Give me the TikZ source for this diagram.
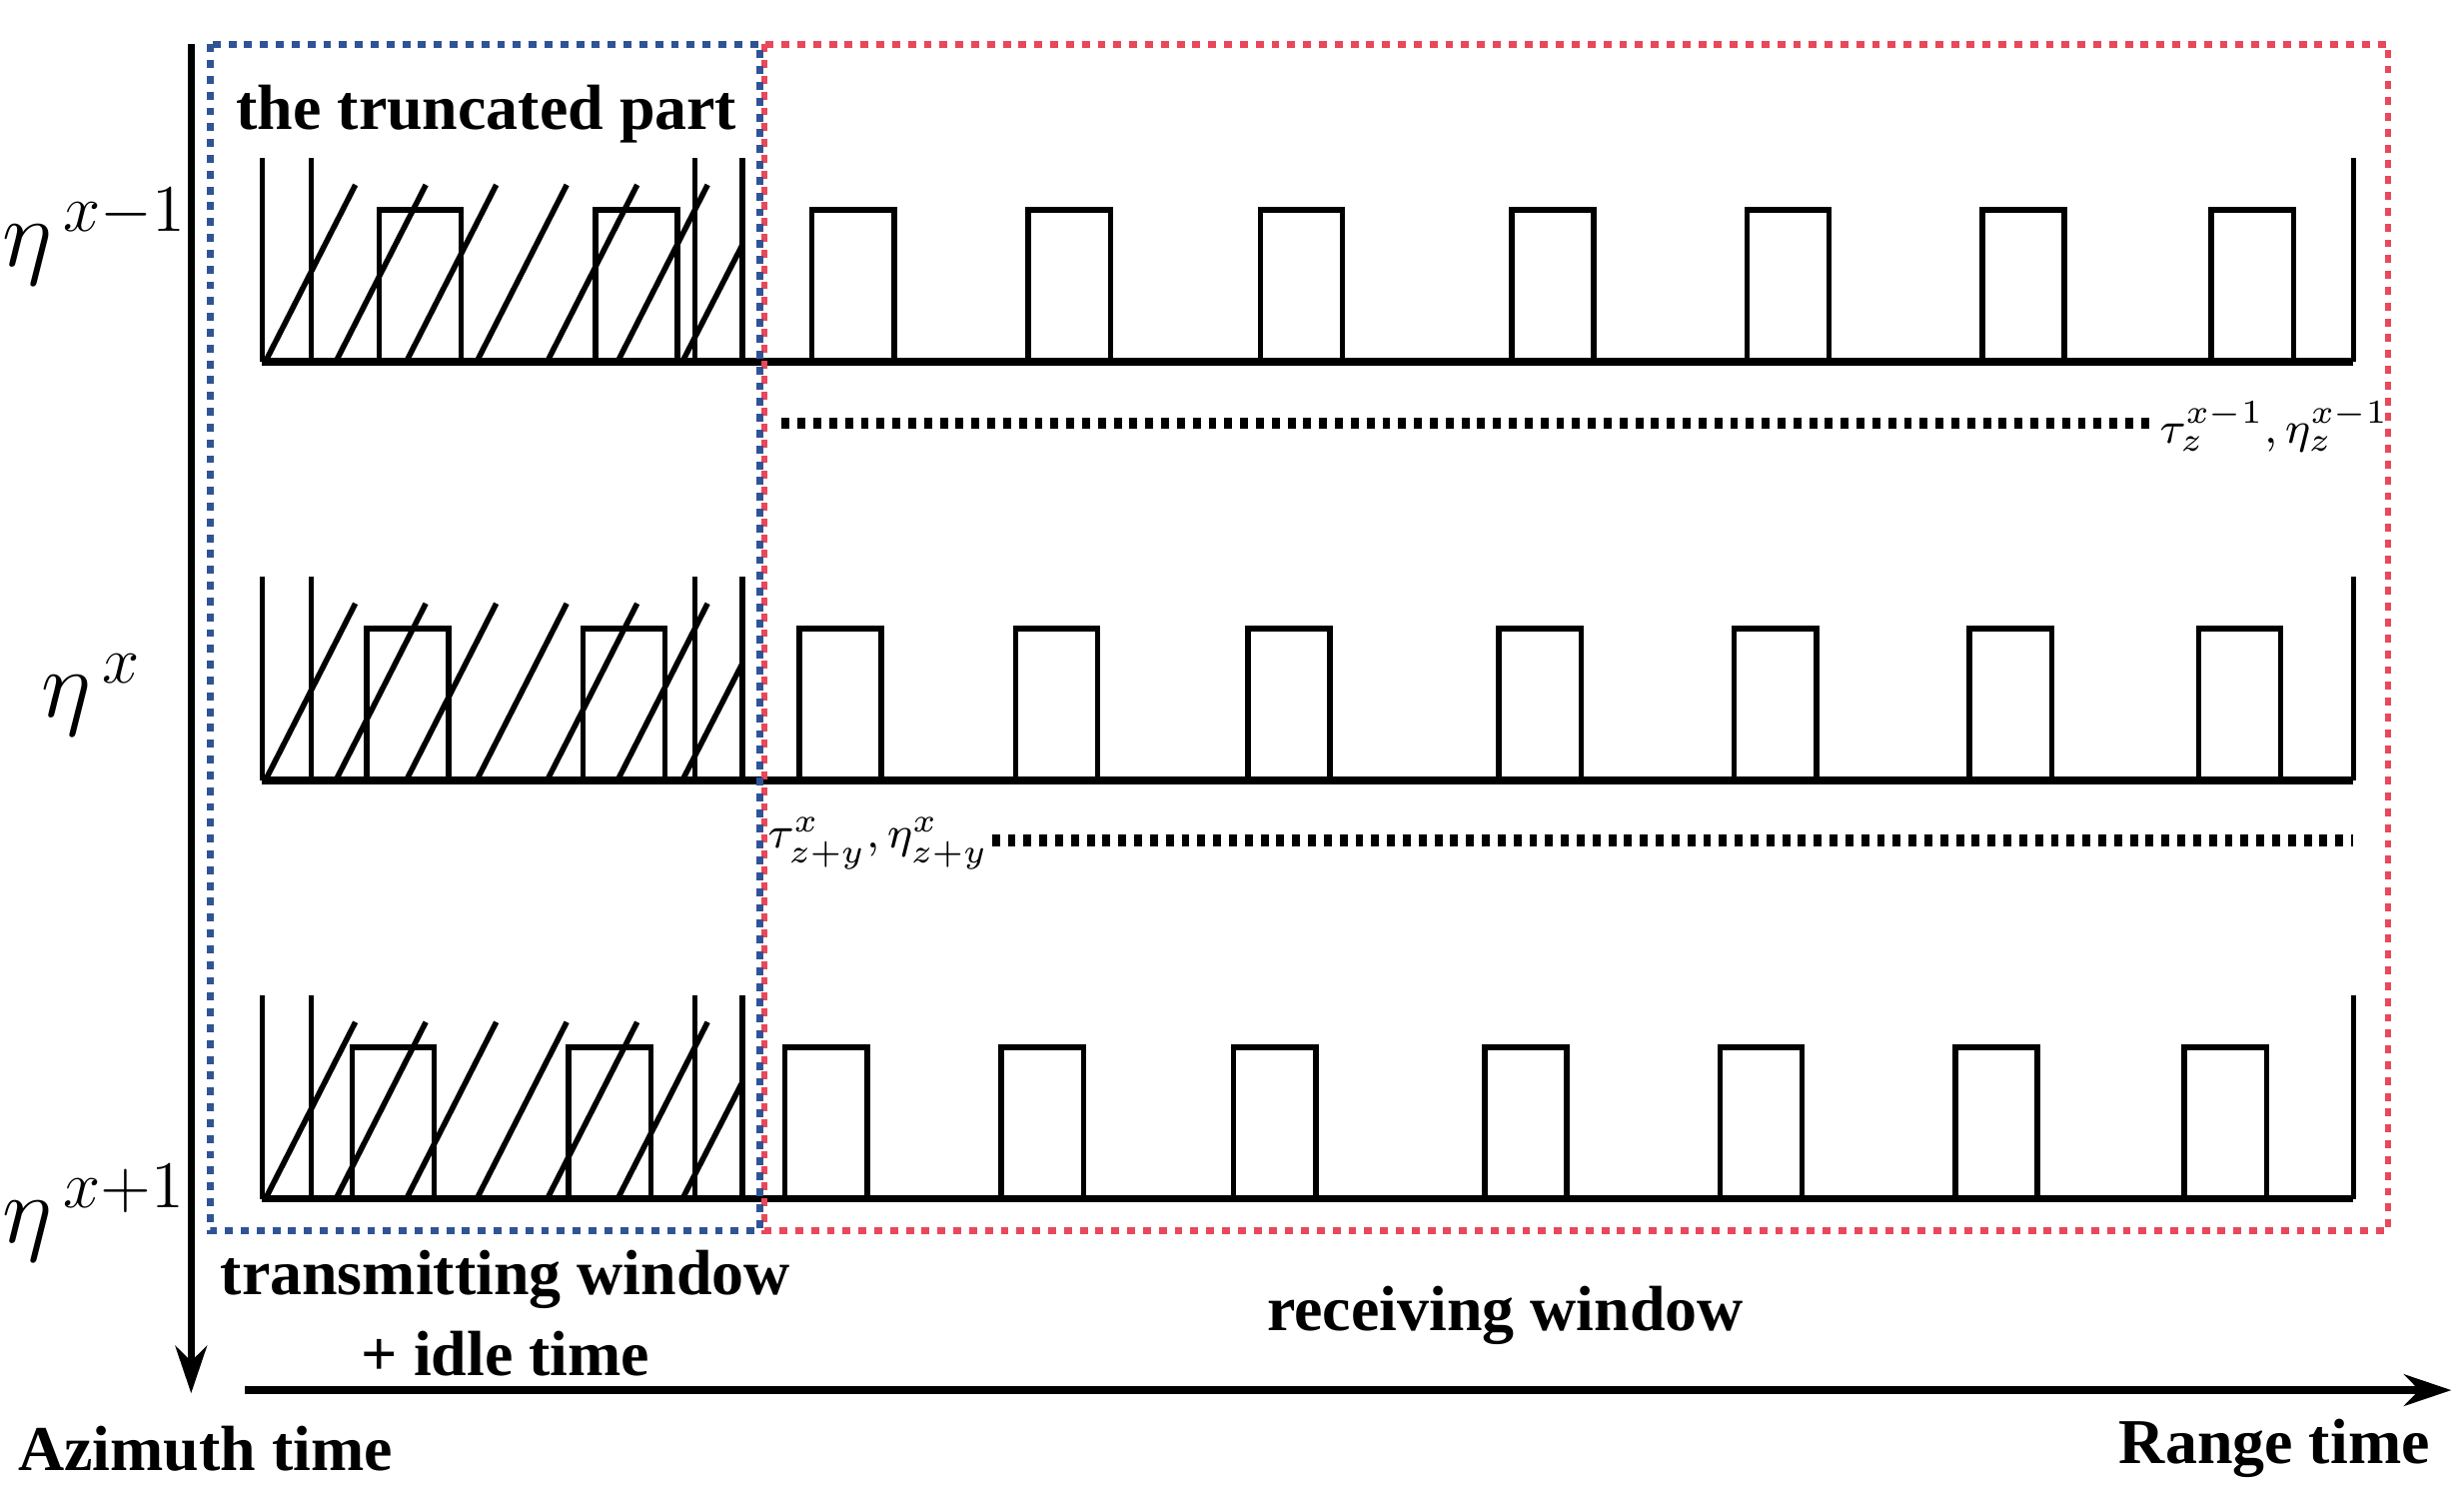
\documentclass[tikz,border=0pt]{standalone}
\usepackage{fontspec}
\setmainfont{Liberation Serif}
\usetikzlibrary{arrows.meta}
\begin{document}
\begin{tikzpicture}[x=0.01cm,y=-0.01cm,
  sig/.style={line width=1pt,line join=miter},
  base/.style={line width=1.3pt},
  blk/.style={line width=2pt,dash pattern=on 0.05cm off 0.05cm},
  frameB/.style={draw={rgb,255:red,47;green,84;blue,150},line width=1.2pt,dash pattern=on 0.05cm off 0.05cm},
  frameR/.style={draw={rgb,255:red,232;green,72;blue,90},line width=1.2pt,dash pattern=on 0.05cm off 0.05cm},
  lbl/.style={font=\fontsize{11.5}{13}\selectfont\bfseries,inner sep=0pt},
  eta/.style={font=\fontsize{16.5}{18}\selectfont,inner sep=0pt},
  sm/.style={font=\fontsize{8.5}{10}\selectfont,inner sep=0pt}]
\useasboundingbox (0,0) rectangle (1560,951);
\fill[white] (0,0) rectangle (1560,951);
\newcommand\myrow[2]{%
  \draw[base] (166,#1) -- (1490,#1);
  \draw[sig] (1490,#1) -- (1490,#1-129);
  \foreach \xx in {166,197,440,470} \draw[sig] (\xx,#1) -- (\xx,#1-129);
  \foreach \xx in {240,377} \draw[sig] (\xx+#2,#1) -- (\xx+#2,#1-96) -- (\xx+52+#2,#1-96) -- (\xx+52+#2,#1);
  \foreach \xx in {514,651,798,957,1106,1255,1400} \draw[sig] (\xx+#2,#1) -- (\xx+#2,#1-96) -- (\xx+52+#2,#1-96) -- (\xx+52+#2,#1);
  \foreach \i in {0,...,5} \draw[sig] (168+44.6*\i,#1) -- (225+44.6*\i,#1-112);
  \draw[sig] (432,#1) -- (470,#1-74);
}
\myrow{229}{0}
\myrow{494}{-8}
\myrow{759}{-17}
\draw[frameR] (484,28) rectangle (1512,779);
\draw[frameB] (133,28) rectangle (481,779);
\coordinate (d1a) at (495,268); \coordinate (d1b) at (1362,268);
\coordinate (d2a) at (628,532); \coordinate (d2b) at (1490,532);
\draw[blk] (d1a) -- (d1b);
\draw[blk] (d2a) -- (d2b);
\coordinate (az0) at (121,28); \coordinate (az1) at (121,882);
\coordinate (r0) at (155,880); \coordinate (r1) at (1552,880);
\draw[line width=1.3pt,-{Stealth[length=0.3cm,width=0.2cm]}] (az0) -- (az1);
\draw[line width=1.3pt,-{Stealth[length=0.3cm,width=0.2cm]}] (r0) -- (r1);
\node[lbl] (tp) at (308,72) {the truncated part};
\node[lbl] (tw) at (320,810) {transmitting window};
\node[lbl] (it) at (320,857) {+ idle time};
\node[lbl] (rw) at (953,833) {receiving window};
\node[lbl] (at) at (130,917) {Azimuth time};
\node[lbl] (rt) at (1440,917) {Range time};
\node[eta] (e1) at (60,150) {$\eta^{\,x-1}$};
\node[eta] (e2) at (58,440) {$\eta^{\,x}$};
\node[eta] (e3) at (60,768) {$\eta^{\,x+1}$};
\node[sm] (t1) at (1440,270) {$\tau_z^{x-1},\eta_z^{x-1}$};
\node[sm] (t2) at (556,534) {$\tau_{z+y}^{x},\eta_{z+y}^{x}$};
\end{tikzpicture}
\end{document}
